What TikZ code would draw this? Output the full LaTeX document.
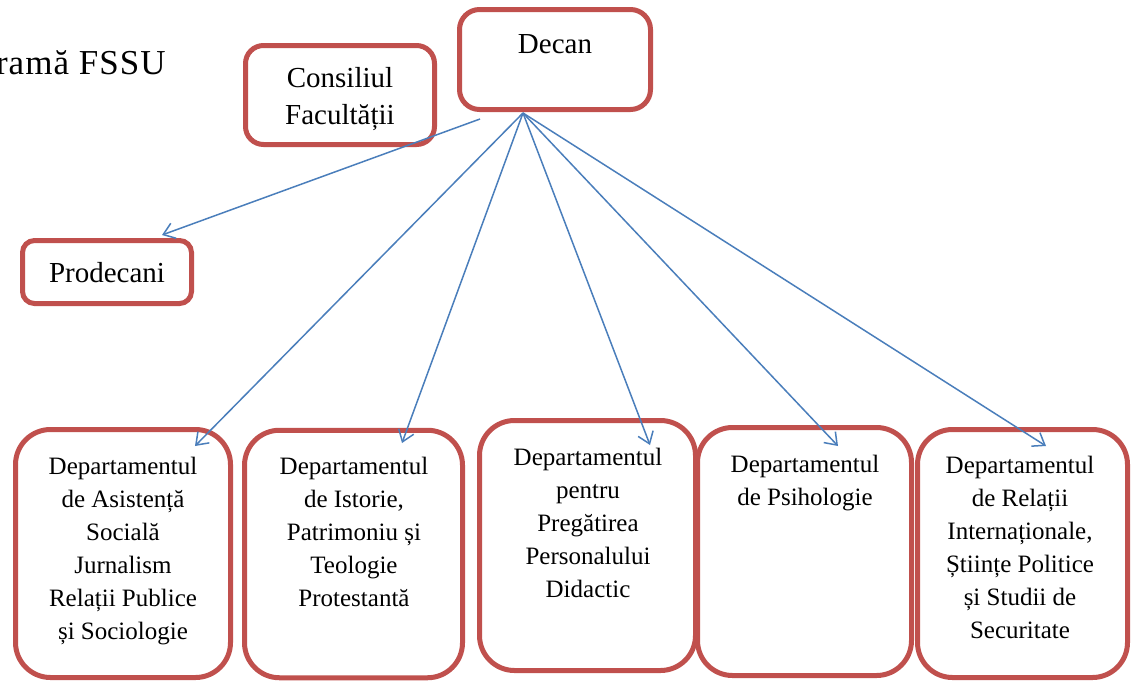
\documentclass[tikz,border=0pt]{standalone}
\usepackage{fontspec}
\setmainfont{Liberation Serif}
\usetikzlibrary{arrows.meta}
\definecolor{boxred}{HTML}{C0504D}
\definecolor{arrblue}{HTML}{4A7EBB}
\begin{document}
\begin{tikzpicture}[x=1pt,y=-1pt,
  box/.style={draw=boxred, line width=5pt, fill=white, rounded corners=35pt, inner sep=0pt},
  lbl/.style={font=\fontsize{29}{37}\selectfont, inner sep=0pt, anchor=base, align=center},
  dtext/.style={font=\fontsize{25}{33}\selectfont, inner sep=0pt, anchor=base, align=center},
  arr/.style={draw=arrblue, line width=1.5pt, -{Straight Barb[length=11pt,width=16pt,line width=1.5pt]}}]
\useasboundingbox (0,0) rectangle (1136,681);

% title
\node[lbl, font=\fontsize{35}{40}\selectfont, anchor=base east] (title) at (166,74) {\addfontfeatures{LetterSpace=3}ramă FSSU};

% top boxes
\node[box, rounded corners=20pt, minimum width=191pt, minimum height=100pt] (decan) at (555,59.5) {};
\node[lbl] (decant) at (555,53) {Decan};
\node[box, rounded corners=18pt, minimum width=189pt, minimum height=99pt] (consiliu) at (340,95) {};
\node[lbl] (consiliut) at (340,124) {Consiliul\\Facultății};
\node[box, rounded corners=12pt, minimum width=169pt, minimum height=63pt] (prodecani) at (107,272) {};
\node[lbl] (prodecanit) at (107,282) {Prodecani};

% departments
\node[box, minimum width=215pt, minimum height=248pt] (dep1) at (123,553.5) {};
\node[box, minimum width=218pt, minimum height=247.5pt] (dep2) at (353.5,554) {};
\node[box, minimum width=216pt, minimum height=250pt] (dep3) at (587.5,545.5) {};
\node[box, minimum width=214pt, minimum height=248pt] (dep4) at (804.5,551.5) {};
\node[box, minimum width=210pt, minimum height=248pt] (dep5) at (1022.5,553.5) {};

% (base anchor of a multi-line node = baseline of its last line)
\node[dtext] (dep1t) at (123,639) {Departamentul\\de Asistență\\Socială\\Jurnalism\\Relații Publice\\și Sociologie};
\node[dtext] (dep2t) at (354,606) {Departamentul\\de Istorie,\\Patrimoniu și\\Teologie\\Protestantă};
\node[dtext] (dep3t) at (588,597) {Departamentul\\pentru\\Pregătirea\\Personalului\\Didactic};
\node[dtext] (dep4t) at (805,505) {Departamentul\\de Psihologie};
\node[dtext] (dep5t) at (1020,638) {Departamentul\\de Relații\\Internaționale,\\Științe Politice\\și Studii de\\Securitate};

% connector ends
\coordinate (psrc) at (480,119);
\coordinate (dsrc) at (523,113);
\coordinate (ptip) at (162,235);
\coordinate (t1) at (195,446);
\coordinate (t2) at (402,443);
\coordinate (t3) at (650,445);
\coordinate (t4) at (838,446);
\coordinate (t5) at (1046,446);

\draw[arr] (psrc) -- (ptip);
\draw[arr] (dsrc) -- (t1);
\draw[arr] (dsrc) -- (t2);
\draw[arr] (dsrc) -- (t3);
\draw[arr] (dsrc) -- (t4);
\draw[arr] (dsrc) -- (t5);
\end{tikzpicture}
\end{document}
